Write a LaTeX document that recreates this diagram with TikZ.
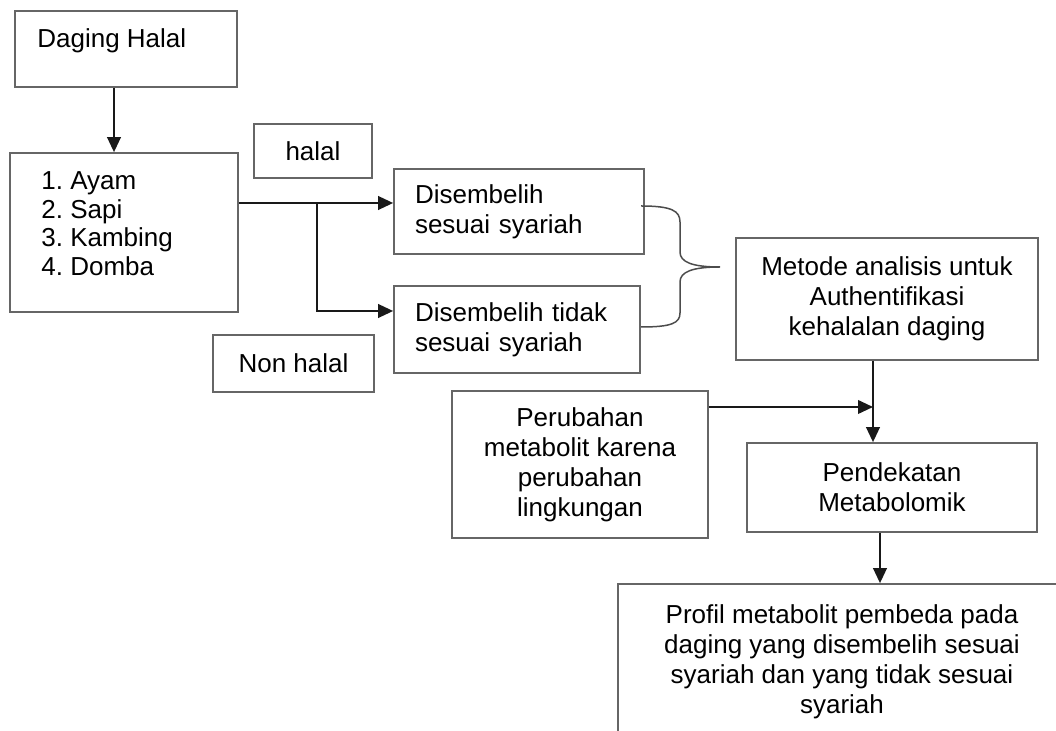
\documentclass[tikz,border=0pt]{standalone}
\usepackage{fontspec}
\setmainfont{Liberation Sans}
\usetikzlibrary{arrows.meta,calc}
\newcommand\myfs{\fontsize{13}{15}\selectfont}
\frenchspacing
\begin{document}
\begin{tikzpicture}[x=0.5pt,y=-0.5pt,
  box/.style={draw=black!60, line width=0.85pt, inner sep=0pt, font=\myfs, align=center},
  arr/.style={draw=black!90, line width=1pt, -{Triangle[length=7.5pt,width=6.8pt]}},
  bracestyle/.style={draw=black!70, line width=0.75pt},
]
\useasboundingbox (0,0) rectangle (1056,731);
\clip (0,0) rectangle (1056,731);

\node[box, minimum width=111pt, minimum height=38pt] (dh) at (126,49) {};
\node[anchor=base west, inner sep=0pt, font=\myfs] (dhtext) at (37,48) {Daging Halal};

\node[box, minimum width=114pt, minimum height=79.5pt] (list) at (124,232.5) {};
\node[anchor=north west, inner sep=0pt, align=left, font=\fontsize{13}{14.25}\selectfont] (listtext) at (41,171.5) {1. Ayam\\2. Sapi\\3. Kambing\\4. Domba};

\node[box, minimum width=59pt, minimum height=27pt] (halal) at (313,151) {halal};
\node[box, minimum width=80.5pt, minimum height=28.5pt] (nonhalal) at (293.5,363.5) {Non halal};

\node[box, minimum width=125pt, minimum height=42.5pt, align=left, text width=104pt, inner xsep=10.5pt] (ds1) at (519,211.5) {Disembelih\\sesuai syariah};
\node[box, minimum width=123pt, minimum height=43.5pt, align=left, text width=102pt, inner xsep=10.5pt] (ds2) at (517,329.5) {\mbox{Disembelih tidak}\\sesuai syariah};

\node[box, minimum width=151pt, minimum height=61pt] (metode) at (887,299) {Metode analisis untuk\\Authentifikasi\\kehalalan daging};
\node[box, minimum width=128pt, minimum height=73.5pt] (perub) at (580,464.5) {Perubahan\\metabolit karena\\perubahan\\lingkungan};
\node[box, minimum width=145pt, minimum height=44.5pt] (pend) at (892,487.5) {Pendekatan\\Metabolomik};
\node[box, minimum width=224pt, minimum height=78pt] (profil) at (842,662) {Profil metabolit pembeda pada\\daging yang disembelih sesuai\\syariah dan yang tidak sesuai\\syariah};

% connectors
\draw[arr] ([xshift=-6pt]dh.south) -- ([xshift=-6pt]dh.south |- list.north);
\draw[arr] ([yshift=14.75pt]list.east) coordinate (j0) -- (j0 -| ds1.west);
\path (j0) ++(39pt,0) coordinate (br);
\draw[arr] (br) |- ([yshift=9.25pt]ds2.west);
\draw[arr] ([xshift=-7pt]metode.south) coordinate (m1) -- (m1 |- pend.north);
\draw[arr] ([yshift=28.75pt]perub.east) coordinate (p1) -- (p1 -| m1);
\draw[arr] ([xshift=-6pt]pend.south) coordinate (q1) -- (q1 |- profil.north);

% brace
\draw[bracestyle] (641,206) .. controls (672,206) and (680,211) .. (680,222)
  -- (680,252) .. controls (680,262) and (692,267) .. (720,267)
  .. controls (692,267) and (680,272) .. (680,282)
  -- (680,313) .. controls (680,323) and (672,327) .. (641,327);
\end{tikzpicture}
\end{document}
